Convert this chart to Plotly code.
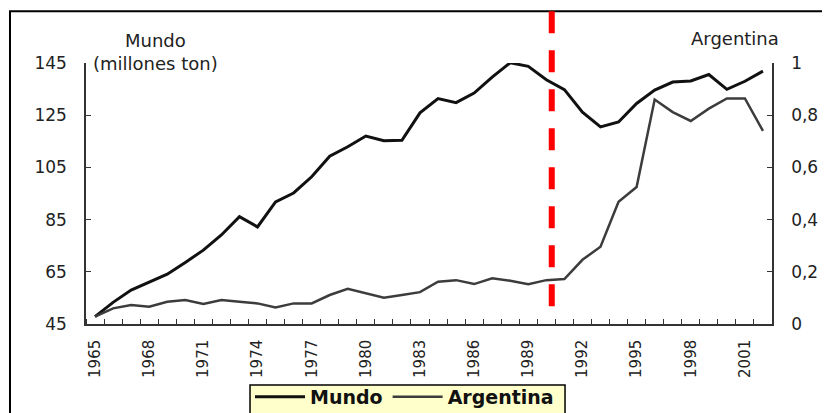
import plotly.graph_objects as go

# Production series
years = list(range(1965, 2003))
mundo = [47.8, 53.3, 58.0, 61.2, 64.1, 68.6, 73.3, 79.1, 86.1, 82.2,
         91.8, 95.2, 101.4, 109.3, 112.9, 117.0, 115.2, 115.4, 125.9, 131.4,
         129.8, 133.5, 139.6, 145.1, 143.7, 138.6, 134.8, 126.2, 120.5, 122.4,
         129.5, 134.6, 137.7, 138.1, 140.6, 134.9, 138.0, 141.9]
argentina = [0.028, 0.060, 0.073, 0.066, 0.085, 0.092, 0.077, 0.092, 0.085, 0.079,
             0.063, 0.079, 0.079, 0.111, 0.135, 0.117, 0.101, 0.111, 0.122, 0.162,
             0.168, 0.153, 0.175, 0.166, 0.152, 0.168, 0.172, 0.246, 0.296, 0.468,
             0.525, 0.860, 0.812, 0.778, 0.825, 0.864, 0.864, 0.740]
year_labels = list(range(1965, 2002, 3))
left_ticks = [45, 65, 85, 105, 125, 145]
right_ticks = [0, 0.2, 0.4, 0.6, 0.8, 1]
break_year = 1990.3

TXT = "#222222"
FONT = "DejaVu Sans"

fig = go.Figure()

fig.add_trace(go.Scatter(
    x=years, y=mundo, mode="lines", name="Mundo",
    line=dict(color="#111111", width=3),
))
fig.add_trace(go.Scatter(
    x=years, y=argentina, mode="lines", name="Argentina", yaxis="y2",
    line=dict(color="#3c3c3c", width=2.5),
))

# outer frame
fig.add_shape(type="rect", xref="paper", yref="paper",
              x0=-0.1108, x1=1.09, y0=-0.4, y1=1.198,
              line=dict(color="black", width=2), fillcolor="rgba(0,0,0,0)", layer="below")

# yellow legend box (runs off the bottom edge, as in the source)
fig.add_shape(type="rect", xref="paper", yref="paper",
              x0=0.2391, x1=0.6983, y0=-0.45, y1=-0.2334,
              line=dict(color="black", width=1.5), fillcolor="#ffffcc", layer="above")

# red dashed break line, drawn from the top down
fig.add_shape(type="line", xref="x", yref="paper",
              x0=break_year, x1=break_year, y0=1.198, y1=0.061,
              line=dict(color="#ff0000", width=6, dash="22px,17px"))

fig.add_annotation(x=0.1006, y=1.087, xref="paper", yref="paper", text="Mundo",
                   xanchor="center", yanchor="middle", showarrow=False,
                   font=dict(family=FONT, size=18, color=TXT))
fig.add_annotation(x=0.1006, y=0.999, xref="paper", yref="paper", text="(millones ton)",
                   xanchor="center", yanchor="middle", showarrow=False,
                   font=dict(family=FONT, size=18, color=TXT))
fig.add_annotation(x=0.946, y=1.0945, xref="paper", yref="paper", text="Argentina",
                   xanchor="center", yanchor="middle", showarrow=False,
                   font=dict(family=FONT, size=18, color=TXT))

fig.update_layout(
    width=822, height=405,
    margin=dict(l=78, r=58, t=55, b=89),
    plot_bgcolor="white", paper_bgcolor="white",
    separators=",.",
    showlegend=True,
    legend=dict(
        orientation="h", xref="container", yref="container",
        x=242 / 822, y=1 - 370 / 405, xanchor="left", yanchor="top",
        bgcolor="rgba(0,0,0,0)", borderwidth=0,
        itemwidth=50,
        font=dict(family="DejaVu Sans", size=19, color="#111111", weight="bold"),
    ),
    xaxis=dict(
        range=[1964.5, 2002.5], tickmode="array", tickvals=year_labels,
        ticks="", tickangle=-90, showgrid=False, zeroline=False, automargin=False,
        showline=True, linecolor="#333333", linewidth=1.5,
        tickfont=dict(family=FONT, size=15, color=TXT), ticklabelstandoff=8,
        minor=dict(ticks="inside", tick0=1964.5, dtick=1, ticklen=5,
                   tickcolor="#333333", tickwidth=1, showgrid=False),
    ),
    yaxis=dict(
        range=[45, 145], tickmode="array", tickvals=left_ticks,
        ticks="inside", ticklen=5, tickcolor="#333333",
        showgrid=False, zeroline=False, automargin=False,
        showline=True, linecolor="#333333", linewidth=1.5,
        tickfont=dict(family=FONT, size=17, color=TXT), ticklabelstandoff=14,
    ),
    yaxis2=dict(
        range=[0, 1], tickmode="array", tickvals=right_ticks, overlaying="y", side="right",
        ticks="inside", ticklen=5, tickcolor="#333333",
        showgrid=False, zeroline=False, automargin=False,
        showline=True, linecolor="#333333", linewidth=1.5,
        tickfont=dict(family=FONT, size=17, color=TXT), ticklabelstandoff=14,
    ),
)

fig.write_html("out.html")
